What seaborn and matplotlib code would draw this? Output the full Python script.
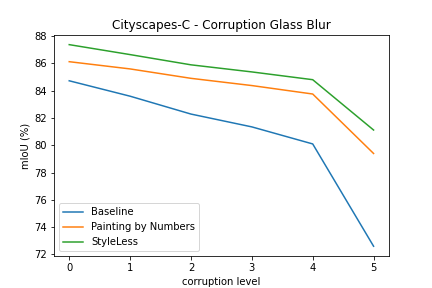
import pandas as pd
import matplotlib
matplotlib.use('Agg')
import matplotlib.pyplot as plt
import seaborn as sns

levels = [0, 1, 2, 3, 4, 5]
baseline = [84.73, 83.6, 82.29, 81.35, 80.1, 72.6]
painting = [86.13, 85.6, 84.91, 84.38, 83.76, 79.4]
styleless = [87.38, 86.65, 85.9, 85.38, 84.81, 81.12]
methods = ['Baseline', 'Painting by Numbers', 'StyleLess']

df = pd.DataFrame({
    'corruption level': levels * 3,
    'mIoU (%)': baseline + painting + styleless,
    'method': [m for m in methods for _ in levels],
})

fig, ax = plt.subplots(figsize=(6, 4), dpi=72)
sns.lineplot(data=df, x='corruption level', y='mIoU (%)', hue='method',
             palette=['#1f77b4', '#ff7f0e', '#2ca02c'], ax=ax)
ax.set_title('Cityscapes-C - Corruption Glass Blur')
ax.set_xticks(levels)
ax.set_yticks(range(72, 89, 2))
ax.legend(loc='lower left', title=None)
plt.savefig('out.png')
